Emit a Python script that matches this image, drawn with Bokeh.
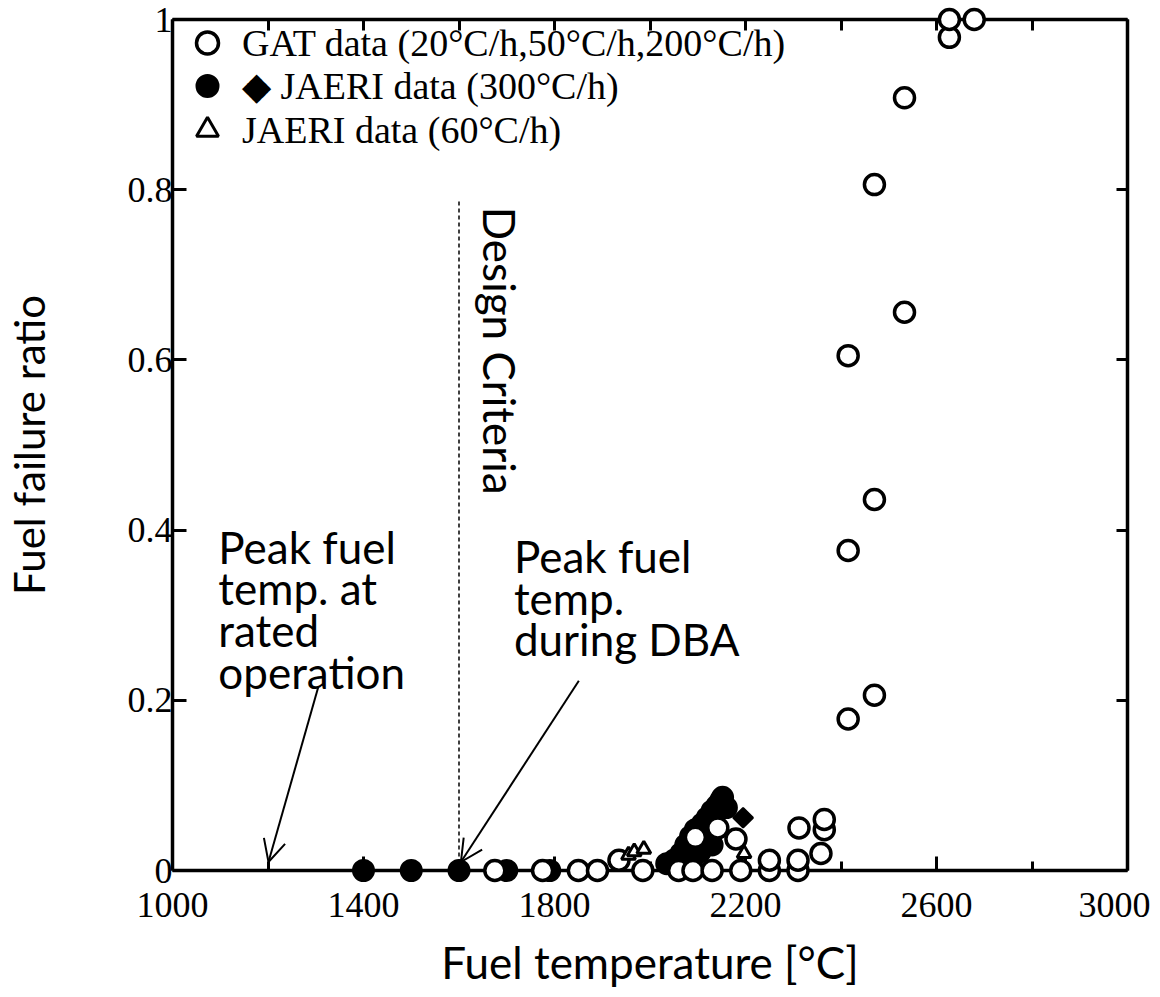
import math
from bokeh.plotting import figure
from bokeh.models import (LinearAxis, FixedTicker, Range1d, Label, Arrow, OpenHead,
                          Legend, LegendItem, ColumnDataSource)
from bokeh.embed import file_html
from bokeh.resources import INLINE

# ---------------- data ----------------
gat_temp = [1675, 1775, 1850, 1890, 1935, 1985, 2060, 2090, 2095, 2130, 2142, 2180, 2190,
            2250, 2250, 2310, 2310, 2312, 2358, 2365, 2365,
            2415, 2415, 2415, 2470, 2470, 2470, 2533, 2533, 2627, 2627, 2679]
gat_ratio = [0, 0, 0, 0, 0.012, 0, 0, 0, 0.039, 0, 0.05, 0.037, 0,
             0, 0.012, 0, 0.012, 0.05, 0.02, 0.048, 0.06,
             0.178, 0.376, 0.605, 0.206, 0.436, 0.806, 0.656, 0.908, 0.979, 1.0, 1.0]

jaeri300_circle_temp = [1400, 1500, 1600, 1700, 1790, 2035, 2050, 2065, 2075, 2080, 2085,
                        2090, 2095, 2105, 2110, 2115, 2120, 2120, 2130, 2130, 2140, 2148,
                        2152, 2160]
jaeri300_circle_ratio = [0, 0, 0, 0, 0, 0.008, 0.012, 0.02, 0.03, 0.01, 0.04,
                         0.015, 0.048, 0.022, 0.055, 0.045, 0.04, 0.062, 0.03, 0.07, 0.076, 0.082,
                         0.086, 0.074]

jaeri300_diamond_temp = [2195]
jaeri300_diamond_ratio = [0.062]

jaeri60_temp = [1955, 1967, 1987, 2197]
jaeri60_ratio = [0.018, 0.022, 0.025, 0.02]

legend_labels = ["GAT data (20°C/h,50°C/h,200°C/h)",
                 "◆ JAERI data (300°C/h)",
                 "JAERI data (60°C/h)"]

x_major_ticks = [1000, 1400, 1800, 2200, 2600, 3000]
x_minor_ticks = [1200, 1600, 2000, 2400, 2800]
x_all_ticks = [1000, 1200, 1400, 1600, 1800, 2000, 2200, 2400, 2600, 2800, 3000]
y_ticks = [0, 0.2, 0.4, 0.6, 0.8, 1.0]

design_criteria_temp = 1600
design_criteria_top = 0.787

rated_arrow = dict(x_start=1305, y_start=0.215, x_end=1201, y_end=0.01)
dba_arrow = dict(x_start=1851, y_start=0.223, x_end=1604, y_end=0.01)

# ---------------- figure ----------------
p = figure(width=1150, height=993, x_range=Range1d(1000, 3000), y_range=Range1d(0, 1),
           output_backend="svg", toolbar_location=None,
           min_border_left=172, min_border_right=23, min_border_top=19, min_border_bottom=123)
p.xgrid.visible = False
p.ygrid.visible = False
p.outline_line_color = None
p.background_fill_color = "white"

SERIF = "Liberation Serif"
SANS = "Lato"

xa = p.xaxis[0]
xa.ticker = FixedTicker(ticks=x_major_ticks, minor_ticks=x_minor_ticks)
ya = p.yaxis[0]
ya.ticker = FixedTicker(ticks=y_ticks)
ya.major_label_overrides = {0: "0", 1: "1"}

for ax in (xa, ya):
    ax.axis_line_width = 3.5
    ax.axis_line_color = "black"
    ax.major_tick_in = 14
    ax.major_tick_out = 0
    ax.major_tick_line_width = 3
    ax.minor_tick_in = 9
    ax.minor_tick_out = 0
    ax.minor_tick_line_width = 3
    ax.major_label_text_font = SERIF
    ax.major_label_text_font_size = "36px"
    ax.major_label_text_color = "black"
    ax.axis_label_text_font = SANS
    ax.axis_label_text_color = "black"
    ax.axis_label_text_font_style = "normal"

xa.axis_label = "Fuel temperature [°C]"
xa.axis_label_text_font_size = "44px"
xa.major_label_standoff = 22
xa.axis_label_standoff = 16
ya.axis_label = "Fuel failure ratio"
ya.axis_label_text_font_size = "42px"
ya.major_label_standoff = 0
ya.axis_label_standoff = 71

top = LinearAxis(ticker=FixedTicker(ticks=x_all_ticks),
                 major_label_overrides={t: "" for t in x_all_ticks})
right = LinearAxis(ticker=FixedTicker(ticks=y_ticks),
                   major_label_overrides={t: "" for t in y_ticks})
for ax in (top, right):
    ax.axis_line_width = 3.5
    ax.major_tick_in = 11
    ax.major_tick_out = 0
    ax.major_tick_line_width = 3
    ax.minor_tick_in = 0
    ax.minor_tick_out = 0
    ax.major_label_standoff = 0
p.add_layout(top, "above")
p.add_layout(right, "right")

# ---------------- design criteria line ----------------
p.segment(x0=[design_criteria_temp], y0=[0], x1=[design_criteria_temp], y1=[design_criteria_top],
          line_color="black", line_width=1.5, line_dash="4 3")

# ---------------- data markers ----------------
src_j300 = ColumnDataSource(dict(x=jaeri300_circle_temp, y=jaeri300_circle_ratio))
src_j300d = ColumnDataSource(dict(x=jaeri300_diamond_temp, y=jaeri300_diamond_ratio))
src_gat = ColumnDataSource(dict(x=gat_temp, y=gat_ratio))
src_j60 = ColumnDataSource(dict(x=jaeri60_temp, y=jaeri60_ratio))

r_j300 = p.scatter("x", "y", source=src_j300, marker="circle", size=21,
                   fill_color="black", line_color="black", line_width=2, level="overlay")
r_j300d = p.scatter("x", "y", source=src_j300d, marker="square", size=14, angle=math.pi / 4,
                    fill_color="black", line_color="black", line_width=2, level="overlay")
r_gat = p.scatter("x", "y", source=src_gat, marker="circle", size=20,
                  fill_color="white", line_color="black", line_width=3.5, level="overlay")
r_j60 = p.scatter("x", "y", source=src_j60, marker="triangle", size=14,
                  fill_color="white", line_color="black", line_width=3, level="overlay")

# one legend per row so each glyph can be drawn at full size
legend_offsets = [800, 757, 713]  # px from the frame's bottom to each legend row's bottom
for lbl, rend, off in zip(legend_labels, [r_gat, r_j300, r_j60], legend_offsets):
    lg = Legend(items=[LegendItem(label=lbl, renderers=[rend])], location=(0, off))
    lg.margin = 0
    lg.padding = 0
    lg.spacing = 0
    lg.glyph_width = 70
    lg.glyph_height = 55
    lg.label_standoff = 0
    lg.label_text_font = SERIF
    lg.label_text_font_size = "38px"
    lg.label_text_color = "black"
    lg.label_text_baseline = "middle"
    lg.background_fill_alpha = 0
    lg.border_line_alpha = 0
    p.add_layout(lg)

# ---------------- annotations ----------------
p.add_layout(Label(x=1096, y=0.411, text="Peak fuel\ntemp. at\nrated\noperation",
                   text_font=SANS, text_font_size="44px", text_align="left",
                   text_baseline="top", text_line_height=0.8, text_color="black"))
p.add_layout(Label(x=1715, y=0.400, text="Peak fuel\ntemp.\nduring DBA",
                   text_font=SANS, text_font_size="44px", text_align="left",
                   text_baseline="top", text_line_height=0.8, text_color="black"))
p.add_layout(Label(x=1686, y=0.780, text="Design Criteria", angle=-math.pi / 2,
                   text_font=SANS, text_font_size="44px", text_align="left",
                   text_baseline="middle", text_color="black"))

for a in (rated_arrow, dba_arrow):
    p.add_layout(Arrow(end=OpenHead(size=22, line_width=2, line_color="black"),
                       line_width=2, line_color="black", **a))

open("out.html", "w").write(file_html(p, INLINE))
